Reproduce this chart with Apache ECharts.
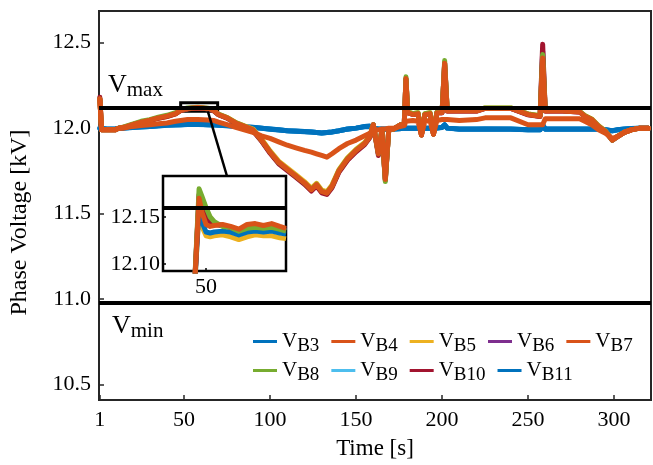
<!DOCTYPE html>
<html>
<head>
<meta charset="utf-8">
<script src="https://cdn.jsdelivr.net/npm/echarts@6/dist/echarts.min.js"></script>
<style>html,body{margin:0;padding:0;background:#fff}#chart{width:653px;height:465px}</style>
</head>
<body>
<div id="chart"></div>
<script>
// ---------- data ----------
const time = [1,2,5,10,12,15,20,25,30,35,40,45,48,52,58,64,67,70,75,80,85,90,95,100,105,110,115,120,124,127,130,133,136,140,145,150,155,158,160,163,165,167,169,172,176,178,179,180,183,186,188,190,193,195,197,200,201.5,203,210,220,225,240,250,257,258.5,260,270,280,283,287,291,295,299,302,306,310,315,320];

const vB3 = [12.0,11.995,11.995,11.995,12.0,12.0,12.005,12.008,12.01,12.015,12.018,12.02,12.02,12.022,12.022,12.02,12.02,12.018,12.015,12.012,12.008,12.005,12.0,11.995,11.99,11.985,11.983,11.98,11.978,11.975,11.972,11.975,11.978,11.985,11.995,12.0,12.01,12.012,12.0,11.995,11.995,11.995,11.995,11.995,11.998,12.0,12.0,12.0,12.0,12.0,11.995,12.0,12.0,11.995,12.0,12.005,12.02,12.0,11.995,11.995,11.995,11.995,11.99,11.99,12.02,11.995,11.995,11.995,11.995,11.995,11.995,11.99,11.985,11.99,11.995,11.998,12.0,12.0];
const vB4 = [12.17,11.99,11.99,11.99,12.0,12.0,12.01,12.015,12.02,12.025,12.03,12.04,12.045,12.05,12.05,12.048,12.045,12.035,12.02,12.005,11.99,11.975,11.955,11.94,11.92,11.90,11.885,11.87,11.86,11.85,11.84,11.83,11.85,11.88,11.91,11.93,11.955,11.97,11.985,11.99,11.995,11.995,12.0,12.0,12.01,12.015,12.04,12.04,12.045,12.04,11.96,12.04,12.045,11.965,12.045,12.05,12.05,12.05,12.045,12.05,12.06,12.06,12.02,12.02,12.02,12.055,12.055,12.055,12.04,12.02,11.99,11.97,11.94,11.95,11.975,11.99,12.0,12.0];
const vB5 = [12.17,11.99,11.99,11.99,12.0,12.005,12.02,12.034,12.045,12.058,12.068,12.083,12.103,12.113,12.118,12.113,12.104,12.08,12.062,12.033,12.013,11.995,11.936,11.867,11.807,11.767,11.727,11.687,11.648,11.677,11.638,11.628,11.668,11.757,11.827,11.876,11.916,11.955,12.02,11.855,11.99,11.705,11.99,11.995,12.02,12.02,12.28,12.095,12.085,12.09,11.96,12.085,12.09,11.965,12.093,12.093,12.37,12.103,12.103,12.103,12.118,12.118,12.083,12.073,12.40,12.103,12.103,12.098,12.074,12.054,12.014,11.983,11.93,11.952,11.977,11.99,12.0,12.0];
const vB6 = [12.17,11.99,11.99,11.99,12.0,12.005,12.02,12.035,12.045,12.06,12.07,12.085,12.104,12.114,12.119,12.114,12.104,12.079,12.059,12.029,12.009,11.988,11.928,11.857,11.797,11.757,11.717,11.677,11.637,11.667,11.627,11.617,11.657,11.747,11.817,11.867,11.908,11.948,12.02,11.848,11.99,11.70,11.99,11.995,12.02,12.02,12.285,12.09,12.08,12.085,11.96,12.08,12.085,11.965,12.09,12.09,12.375,12.10,12.10,12.10,12.115,12.115,12.08,12.07,12.45,12.10,12.10,12.095,12.07,12.05,12.01,11.98,11.93,11.95,11.975,11.99,12.0,12.0];
const vB7 = [12.17,11.99,11.99,11.99,12.0,12.005,12.02,12.035,12.046,12.06,12.07,12.085,12.105,12.115,12.12,12.115,12.105,12.08,12.06,12.03,12.01,11.99,11.93,11.86,11.80,11.76,11.72,11.68,11.64,11.67,11.63,11.62,11.66,11.75,11.82,11.87,11.91,11.95,12.02,11.85,11.99,11.70,11.99,11.995,12.02,12.02,12.29,12.09,12.08,12.085,11.96,12.08,12.085,11.965,12.09,12.09,12.38,12.10,12.10,12.10,12.115,12.115,12.08,12.07,12.41,12.10,12.10,12.095,12.07,12.05,12.01,11.98,11.93,11.95,11.975,11.99,12.0,12.0];
const vB8 = [12.17,11.99,11.99,11.99,12.0,12.007,12.024,12.04,12.05,12.064,12.075,12.09,12.108,12.118,12.122,12.117,12.107,12.082,12.062,12.032,12.012,11.99,11.93,11.862,11.80,11.76,11.72,11.68,11.642,11.672,11.632,11.622,11.662,11.752,11.822,11.872,11.912,11.952,12.02,11.85,11.99,11.688,11.99,11.995,12.02,12.02,12.30,12.095,12.085,12.09,11.96,12.085,12.09,11.965,12.095,12.095,12.395,12.105,12.105,12.105,12.118,12.118,12.083,12.073,12.43,12.103,12.103,12.098,12.073,12.052,12.012,11.982,11.93,11.95,11.975,11.99,12.0,12.0];
const vB9 = [12.0,11.994,11.994,11.995,11.999,12.0,12.004,12.008,12.01,12.014,12.017,12.02,12.02,12.021,12.022,12.02,12.019,12.017,12.014,12.011,12.007,12.004,11.999,11.995,11.99,11.985,11.982,11.98,11.977,11.975,11.972,11.975,11.977,11.985,11.995,12.0,12.009,12.011,12.0,11.995,11.995,11.995,11.995,11.995,11.998,12.0,12.0,12.0,12.0,12.0,11.995,12.0,12.0,11.995,12.0,12.005,12.019,12.0,11.995,11.995,11.995,11.995,11.99,11.99,12.019,11.995,11.995,11.995,11.995,11.995,11.995,11.99,11.985,11.99,11.995,11.998,12.0,12.0];
const vB10 = [12.18,11.99,11.99,11.99,12.0,12.004,12.018,12.033,12.044,12.058,12.068,12.083,12.103,12.113,12.118,12.113,12.103,12.078,12.058,12.028,12.008,11.985,11.924,11.853,11.792,11.752,11.712,11.672,11.632,11.662,11.622,11.612,11.652,11.742,11.812,11.862,11.904,11.945,12.02,11.84,11.99,11.695,11.99,11.995,12.02,12.02,12.29,12.09,12.08,12.085,11.96,12.08,12.085,11.965,12.09,12.09,12.38,12.10,12.10,12.10,12.115,12.115,12.078,12.068,12.49,12.10,12.10,12.095,12.07,12.05,12.01,11.98,11.93,11.95,11.975,11.99,12.0,12.0];
const vB11 = [12.0,11.993,11.993,11.995,11.998,12.0,12.004,12.007,12.01,12.013,12.017,12.019,12.02,12.021,12.021,12.02,12.019,12.017,12.014,12.01,12.007,12.004,11.999,11.994,11.989,11.985,11.982,11.979,11.977,11.974,11.972,11.974,11.977,11.984,11.994,12.0,12.008,12.01,12.0,11.994,11.994,11.994,11.995,11.995,11.997,12.0,12.0,12.0,11.999,12.0,11.994,12.0,12.0,11.994,12.0,12.004,12.018,12.0,11.994,11.994,11.995,11.994,11.99,11.99,12.018,11.994,11.994,11.994,11.994,11.994,11.994,11.99,11.984,11.99,11.994,11.997,12.0,12.0];

const insetTime = [46,47,48.3,49,50,51,52,54,56,58,60,62,64,66,68,69.5];
const iB5  = [12.00,12.06,12.158,12.14,12.130,12.129,12.130,12.131,12.129,12.126,12.129,12.131,12.130,12.130,12.128,12.127];
const iB6  = [12.00,12.06,12.172,12.16,12.153,12.146,12.143,12.141,12.139,12.136,12.139,12.140,12.139,12.140,12.138,12.136];
const iB7  = [12.00,12.06,12.17,12.155,12.142,12.140,12.141,12.142,12.140,12.137,12.142,12.143,12.141,12.143,12.140,12.138];
const iB8  = [12.00,12.06,12.18,12.172,12.160,12.150,12.145,12.140,12.139,12.135,12.138,12.139,12.138,12.139,12.137,12.135];
const iB10 = [12.00,12.06,12.174,12.162,12.150,12.144,12.142,12.141,12.139,12.136,12.139,12.141,12.139,12.140,12.138,12.136];
const iB11 = [12.00,12.06,12.16,12.145,12.134,12.133,12.134,12.135,12.134,12.131,12.134,12.135,12.134,12.135,12.133,12.132];

const xTicks = [1,50,100,150,200,250,300];
const yTicks = [10.5,11.0,11.5,12.0,12.5];
const insetXTicks = [50];
const insetYTicks = [12.10,12.15];
const vMax = 12.122;
const vMin = 10.98;
const insetLimit = 12.157;
const seriesNames = ['B3','B4','B5','B6','B7','B8','B9','B10','B11'];

// ---------- chart ----------
const FONT = "'Liberation Serif','Times New Roman',serif";
const colors = {B3:'#0072BD',B4:'#D95319',B5:'#EDB120',B6:'#7E2F8E',B7:'#D95319',B8:'#77AC30',B9:'#4DBEEE',B10:'#A2142F',B11:'#0072BD'};
const mainValues = {B3:vB3,B4:vB4,B5:vB5,B6:vB6,B7:vB7,B8:vB8,B9:vB9,B10:vB10,B11:vB11};
const insetValues = {B5:iB5,B6:iB6,B7:iB7,B8:iB8,B10:iB10,B11:iB11};
const drawOrder = ['B9','B3','B11','B6','B5','B10','B8','B4','B7'];
const insetOrder = ['B5','B11','B6','B10','B8','B7'];
const pairs = (ts, vs) => ts.map((t, i) => [t, vs[i]]);

const series = [];
drawOrder.forEach(n => series.push({
  name: n, type: 'line', xAxisIndex: 0, yAxisIndex: 0,
  data: pairs(time, mainValues[n]), showSymbol: false, symbol: 'none',
  color: colors[n], lineStyle: {width: 5, color: colors[n], join: 'round', cap: 'round'},
  emphasis: {disabled: true}, z: 2
}));
insetOrder.forEach(n => series.push({
  name: n, type: 'line', xAxisIndex: 1, yAxisIndex: 1,
  data: pairs(insetTime, insetValues[n]), showSymbol: false, symbol: 'none',
  color: colors[n], lineStyle: {width: 5, color: colors[n], join: 'round'},
  emphasis: {disabled: true}, z: 3
}));
series.push({
  type: 'line', xAxisIndex: 0, yAxisIndex: 0, data: [], z: 6, silent: true,
  markLine: {symbol: 'none', silent: true, animation: false, label: {show: false},
    lineStyle: {color: '#000', width: 4, type: 'solid'},
    emphasis: {disabled: true},
    data: [{yAxis: vMax}, {yAxis: vMin}]},
  markArea: {silent: true, animation: false,
    itemStyle: {color: 'rgba(0,0,0,0)', borderColor: '#000', borderWidth: 3},
    data: [[{coord: [48, 12.148]}, {coord: [69.5, 12.098]}]]}
});
series.push({
  type: 'line', xAxisIndex: 1, yAxisIndex: 1, data: [], z: 6, silent: true,
  markLine: {symbol: 'none', silent: true, animation: false, label: {show: false},
    lineStyle: {color: '#000', width: 4, type: 'solid'},
    emphasis: {disabled: true},
    data: [{yAxis: insetLimit}]}
});

const legendText = {
  fontFamily: FONT, fontSize: 21, color: '#000',
  rich: {
    v: {fontFamily: FONT, fontSize: 21, color: '#000'},
    s: {fontFamily: FONT, fontSize: 19, color: '#000', padding: [10, 0, 0, 0]}
  }
};
const legendCommon = {
  orient: 'horizontal', icon: 'rect', itemWidth: 24, itemHeight: 3, itemGap: 12,
  textStyle: legendText, selectedMode: false,
  formatter: n => '{v|V}{s|' + n + '}'
};

const axisTickStyle = {color: '#262626', width: 1.5};
const labelStyle = {fontFamily: FONT, fontSize: 22, color: '#000'};

const option = {
  animation: false,
  backgroundColor: '#fff',
  grid: [
    {left: 99, right: 2, top: 11, bottom: 58, show: true, borderColor: '#262626', borderWidth: 2, backgroundColor: 'rgba(0,0,0,0)', containLabel: false},
    {left: 163, top: 176, width: 123, height: 95, show: true, borderColor: '#000', borderWidth: 2.5, backgroundColor: '#fff', containLabel: false}
  ],
  xAxis: [
    {type: 'value', gridIndex: 0, min: 0.5, max: 321.5,
      axisLine: {show: false}, splitLine: {show: false},
      axisTick: {show: true, inside: true, length: 5, customValues: xTicks, lineStyle: axisTickStyle},
      axisLabel: Object.assign({customValues: xTicks, margin: 9}, labelStyle),
      name: 'Time [s]', nameLocation: 'middle', nameGap: 37,
      nameTextStyle: {fontFamily: FONT, fontSize: 23, color: '#000'}},
    {type: 'value', gridIndex: 1, min: 39.5, max: 69.5,
      axisLine: {show: false}, splitLine: {show: false},
      axisTick: {show: true, inside: true, length: 3, customValues: insetXTicks, lineStyle: {color: '#000', width: 1.5}},
      axisLabel: Object.assign({customValues: insetXTicks, margin: 5}, labelStyle)}
  ],
  yAxis: [
    {type: 'value', gridIndex: 0, min: 10.41, max: 12.685,
      axisLine: {show: false}, splitLine: {show: false},
      axisTick: {show: true, inside: true, length: 5, customValues: yTicks, lineStyle: axisTickStyle},
      axisLabel: Object.assign({customValues: yTicks, margin: 8, formatter: v => v.toFixed(1)}, labelStyle),
      name: 'Phase Voltage [kV]', nameLocation: 'middle', nameGap: 67,
      nameTextStyle: {fontFamily: FONT, fontSize: 24, color: '#000', padding: [0, 34, 0, 0]}},
    {type: 'value', gridIndex: 1, min: 12.0926, max: 12.1936,
      axisLine: {show: false}, splitLine: {show: false},
      axisTick: {show: true, inside: true, length: 3, customValues: insetYTicks, lineStyle: {color: '#000', width: 1.5}},
      axisLabel: Object.assign({customValues: insetYTicks, margin: 3, formatter: v => v.toFixed(2)}, labelStyle)}
  ],
  legend: [
    Object.assign({left: 248, top: 326, data: ['B3','B4','B5','B6','B7']}, legendCommon),
    Object.assign({left: 248, top: 355, data: ['B8','B9','B10','B11']}, legendCommon)
  ],
  series: series
};

const chart = echarts.init(document.getElementById('chart'), null, {renderer: 'canvas'});
chart.setOption(option);

const p1 = chart.convertToPixel({xAxisIndex: 0, yAxisIndex: 0}, [63.8, 12.098]);
const p2 = chart.convertToPixel({xAxisIndex: 1, yAxisIndex: 1}, [55.1, 12.1936]);
const subRich = (big, small, off) => ({
  v: {fontFamily: FONT, fontSize: big, fill: '#000'},
  s: {fontFamily: FONT, fontSize: small, fill: '#000', padding: [off, 0, 0, 0]}
});
chart.setOption({
  graphic: [
    {type: 'line', id: 'conn', z: 100, silent: true,
      shape: {x1: p1[0], y1: p1[1], x2: p2[0], y2: p2[1]},
      style: {stroke: '#000', lineWidth: 2.5}},
    {type: 'text', id: 'vmax', left: 108, top: 72, z: 100, silent: true,
      style: {text: '{v|V}{s|max}', rich: subRich(26, 21, 10)}},
    {type: 'text', id: 'vmin', left: 112, top: 313, z: 100, silent: true,
      style: {text: '{v|V}{s|min}', rich: subRich(26, 21, 10)}}
  ]
});
</script>
</body>
</html>
